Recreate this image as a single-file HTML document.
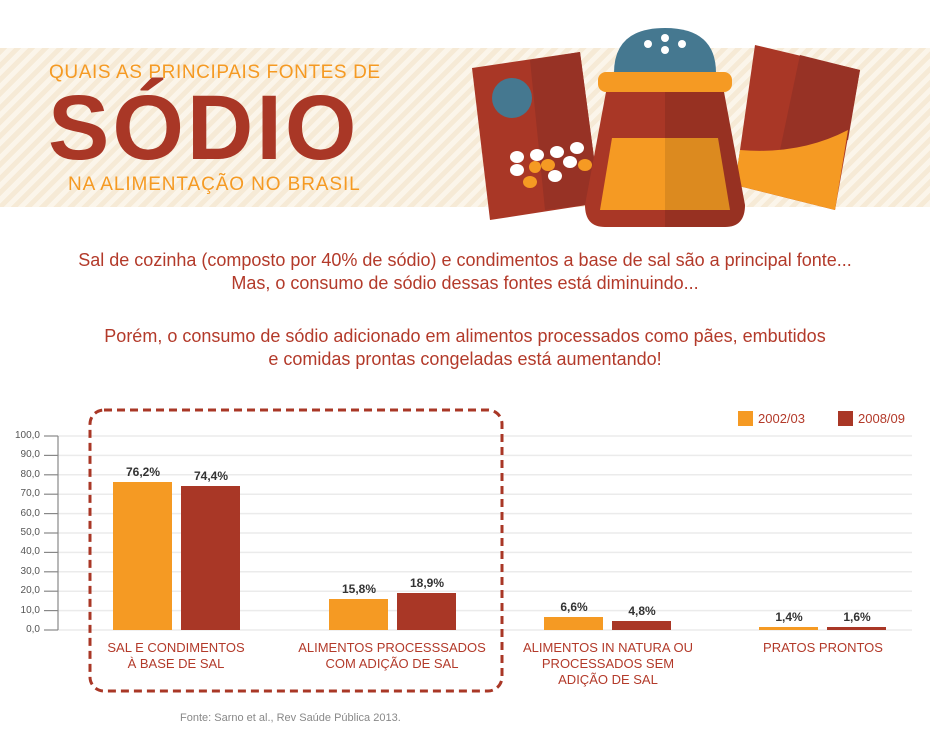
<!DOCTYPE html>
<html><head><meta charset="utf-8"><style>
body{margin:0;width:930px;height:754px;background:#fff;position:relative;overflow:hidden;font-family:"Liberation Sans",sans-serif}
.band{position:absolute;left:0;top:48px;width:930px;height:159px;background:repeating-linear-gradient(135deg,#f6ead6 0 5px,#fbf5ea 5px 10px)}
.t{position:absolute;color:#f59a23;font-size:19px;letter-spacing:0.6px}
.big{position:absolute;left:48px;top:78px;color:#a93726;font-size:92px;font-weight:bold;letter-spacing:3px;line-height:100px}
.p{position:absolute;left:0;width:930px;text-align:center;color:#b33a2a;font-size:18px;line-height:23px}
.lbl{position:absolute;color:#b33a2a;font-size:13px;text-align:center;line-height:16px;width:200px}
.yl{position:absolute;left:0;width:40px;text-align:right;font-size:10px;color:#555}
.v{position:absolute;font-size:12px;font-weight:bold;color:#333;width:60px;text-align:center}
</style></head><body>
<div class="band"></div>
<div class="big">SÓDIO</div>
<div class="t" style="left:49px;top:62px">QUAIS AS PRINCIPAIS FONTES DE</div>
<div class="t" style="left:68px;top:174px;letter-spacing:0.9px">NA ALIMENTAÇÃO NO BRASIL</div>
<svg style="position:absolute;left:0;top:0" width="930" height="230">
<polygon points="472,68 580,52 600,203 490,220" fill="#a93726"/>
<polygon points="530,60 580,52 600,203 545,210" fill="#973225"/>
<circle cx="512" cy="98" r="20" fill="#457890"/>
<g fill="#fff"><ellipse cx="517" cy="157" rx="7" ry="6"/><ellipse cx="537" cy="155" rx="7" ry="6"/><ellipse cx="557" cy="152" rx="7" ry="6"/><ellipse cx="577" cy="148" rx="7" ry="6"/><ellipse cx="517" cy="170" rx="7" ry="6"/><ellipse cx="570" cy="162" rx="7" ry="6"/><ellipse cx="555" cy="176" rx="7" ry="6"/></g>
<g fill="#f59a23"><ellipse cx="530" cy="182" rx="7" ry="6"/><ellipse cx="548" cy="165" rx="7" ry="6"/><ellipse cx="585" cy="165" rx="7" ry="6"/><ellipse cx="535" cy="167" rx="6" ry="6"/></g>
<polygon points="755,45 860,70 835,210 735,185" fill="#a93726"/>
<polygon points="800,55 860,70 848,140 780,150" fill="#973225"/>
<path d="M740,150 Q800,155 848,130 L835,210 735,185Z" fill="#f59a23"/>
<path d="M614,73 Q614,28 665,28 Q716,28 716,73Z" fill="#457890"/>
<g fill="#fff"><circle cx="648" cy="44" r="4"/><circle cx="665" cy="38" r="4"/><circle cx="682" cy="44" r="4"/><circle cx="665" cy="50" r="4"/></g>
<rect x="598" y="72" width="134" height="20" rx="8" fill="#f59a23"/>
<path d="M606,92 L724,92 L745,205 Q745,227 725,227 L605,227 Q585,227 585,205Z" fill="#a93726"/>
<path d="M612,138 L718,138 L730,210 L600,210Z" fill="#f59a23"/>
<path d="M665,92 L724,92 L745,205 Q745,227 725,227 L665,227Z" fill="#000" opacity="0.1"/>
</svg>
<div class="p" style="top:249px">Sal de cozinha (composto por 40% de sódio) e condimentos a base de sal são a principal fonte...<br>Mas, o consumo de sódio dessas fontes está diminuindo...</div>
<div class="p" style="top:325px">Porém, o consumo de sódio adicionado em alimentos processados como pães, embutidos<br>e comidas prontas congeladas está aumentando!</div>
<svg style="position:absolute;left:0;top:0" width="930" height="754">
<g stroke="#ebebeb" stroke-width="1.5">
<line x1="58" y1="436" x2="912" y2="436"/><line x1="58" y1="455.4" x2="912" y2="455.4"/><line x1="58" y1="474.8" x2="912" y2="474.8"/><line x1="58" y1="494.2" x2="912" y2="494.2"/><line x1="58" y1="513.6" x2="912" y2="513.6"/><line x1="58" y1="533" x2="912" y2="533"/><line x1="58" y1="552.4" x2="912" y2="552.4"/><line x1="58" y1="571.8" x2="912" y2="571.8"/><line x1="58" y1="591.2" x2="912" y2="591.2"/><line x1="58" y1="610.6" x2="912" y2="610.6"/><line x1="58" y1="630" x2="912" y2="630"/>
</g>
<g stroke="#888" stroke-width="1.2">
<line x1="58" y1="436" x2="58" y2="630"/>
<line x1="44" y1="436" x2="58" y2="436"/><line x1="44" y1="455.4" x2="58" y2="455.4"/><line x1="44" y1="474.8" x2="58" y2="474.8"/><line x1="44" y1="494.2" x2="58" y2="494.2"/><line x1="44" y1="513.6" x2="58" y2="513.6"/><line x1="44" y1="533" x2="58" y2="533"/><line x1="44" y1="552.4" x2="58" y2="552.4"/><line x1="44" y1="571.8" x2="58" y2="571.8"/><line x1="44" y1="591.2" x2="58" y2="591.2"/><line x1="44" y1="610.6" x2="58" y2="610.6"/><line x1="44" y1="630" x2="58" y2="630"/>
</g>
<g fill="#f59a23"><rect x="113" y="482" width="59" height="148"/><rect x="329" y="599" width="59" height="31"/><rect x="544" y="617" width="59" height="13"/><rect x="759" y="627" width="59" height="3"/><rect x="738" y="411" width="15" height="15"/></g>
<g fill="#a93726"><rect x="181" y="486" width="59" height="144"/><rect x="397" y="593" width="59" height="37"/><rect x="612" y="621" width="59" height="9"/><rect x="827" y="627" width="59" height="3"/><rect x="838" y="411" width="15" height="15"/></g>
<rect x="90" y="410" width="412" height="281" rx="14" fill="none" stroke="#a93726" stroke-width="3" stroke-dasharray="8,5"/>
</svg>
<div class="yl" style="top:430px">100,0</div><div class="yl" style="top:449px">90,0</div><div class="yl" style="top:469px">80,0</div><div class="yl" style="top:488px">70,0</div><div class="yl" style="top:508px">60,0</div><div class="yl" style="top:527px">50,0</div><div class="yl" style="top:546px">40,0</div><div class="yl" style="top:566px">30,0</div><div class="yl" style="top:585px">20,0</div><div class="yl" style="top:605px">10,0</div><div class="yl" style="top:624px">0,0</div>
<div class="v" style="left:113px;top:465px">76,2%</div><div class="v" style="left:181px;top:469px">74,4%</div>
<div class="v" style="left:329px;top:582px">15,8%</div><div class="v" style="left:397px;top:576px">18,9%</div>
<div class="v" style="left:544px;top:600px">6,6%</div><div class="v" style="left:612px;top:604px">4,8%</div>
<div class="v" style="left:759px;top:610px">1,4%</div><div class="v" style="left:827px;top:610px">1,6%</div>
<div style="position:absolute;left:758px;top:411px;font-size:13px;color:#b33a2a">2002/03</div>
<div style="position:absolute;left:858px;top:411px;font-size:13px;color:#b33a2a">2008/09</div>
<div class="lbl" style="left:76px;top:640px">SAL E CONDIMENTOS<br>À BASE DE SAL</div>
<div class="lbl" style="left:292px;top:640px">ALIMENTOS PROCESSSADOS<br>COM ADIÇÃO DE SAL</div>
<div class="lbl" style="left:508px;top:640px">ALIMENTOS IN NATURA OU<br>PROCESSADOS SEM<br>ADIÇÃO DE SAL</div>
<div class="lbl" style="left:723px;top:640px">PRATOS PRONTOS</div>
<div style="position:absolute;left:180px;top:712px;font-size:11px;color:#888">Fonte: Sarno et al., Rev Saúde Pública 2013.</div>
</body></html>
